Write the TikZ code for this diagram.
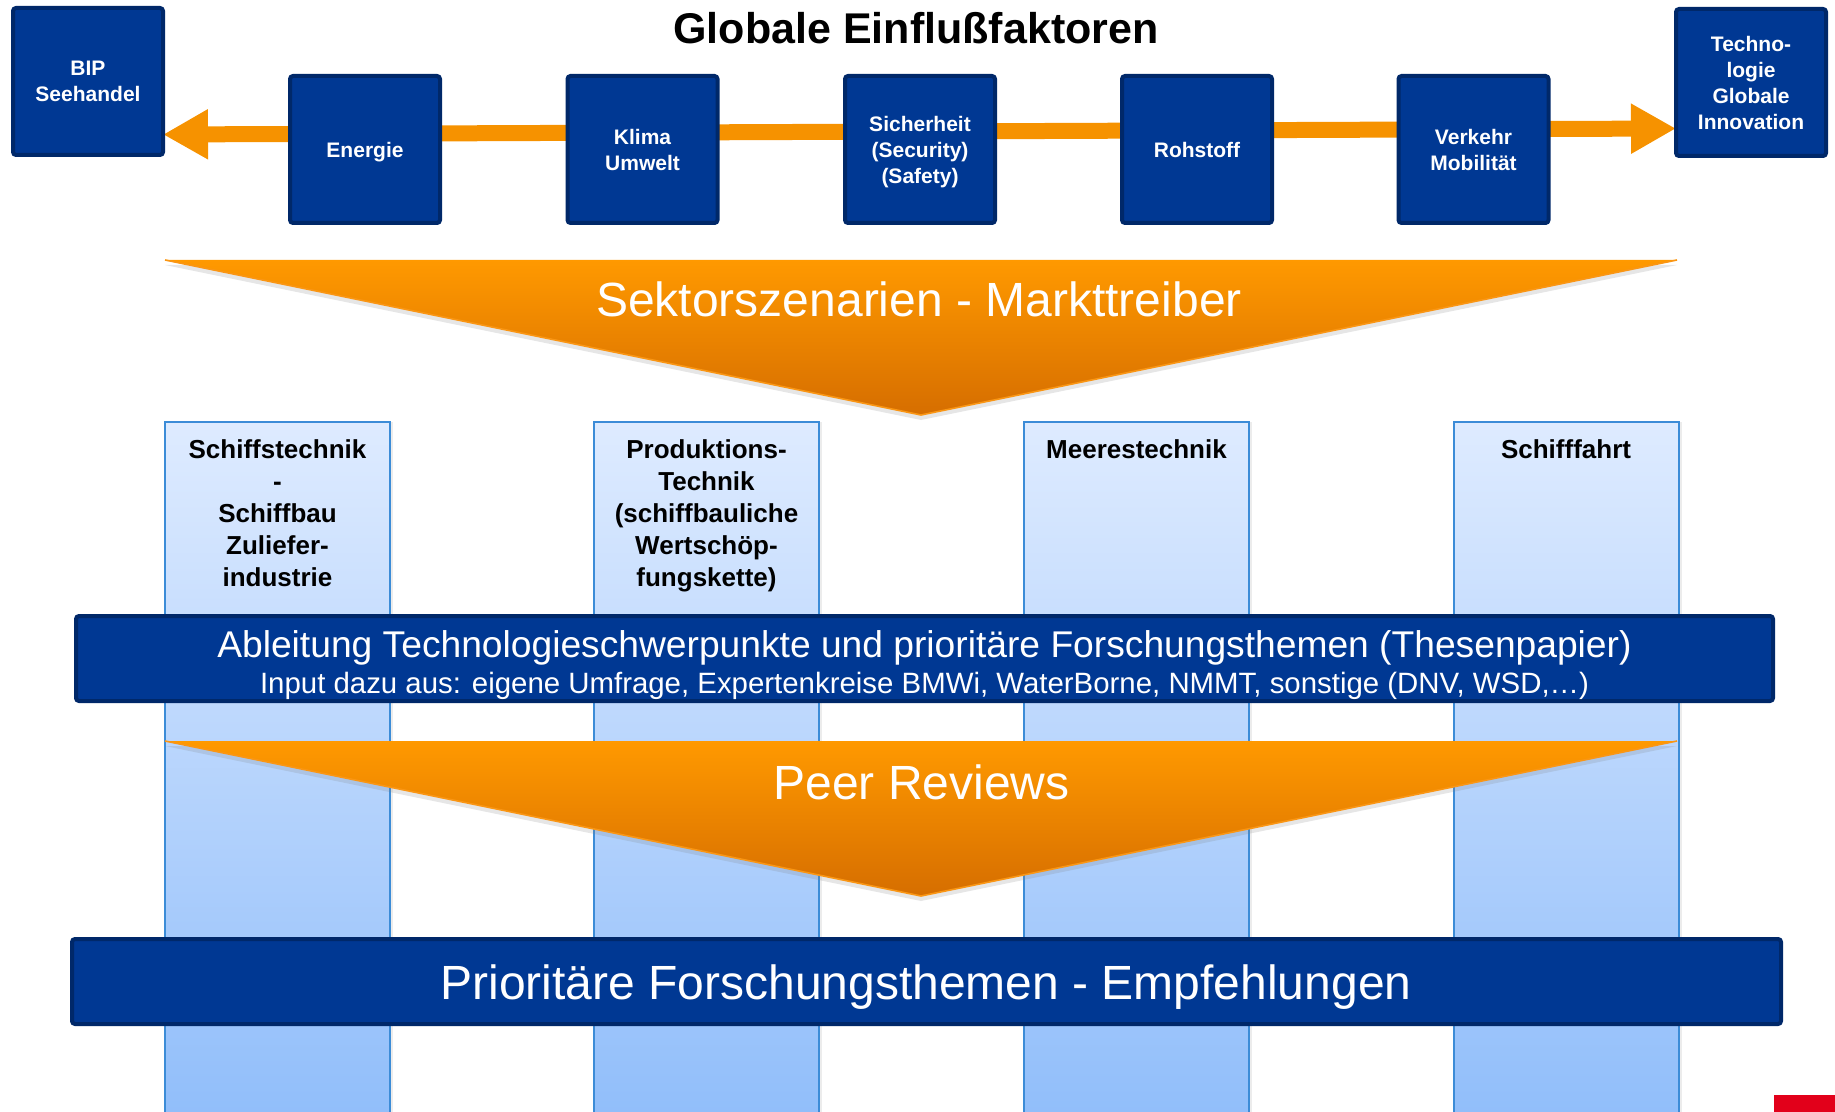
\documentclass[tikz,border=0pt]{standalone}
\usepackage{fontspec}
\setmainfont{Liberation Sans}
\usetikzlibrary{arrows.meta,calc,shadows,backgrounds}

\definecolor{navyF}{RGB}{0,56,147}
\definecolor{navyB}{RGB}{0,40,105}
\definecolor{flowC}{RGB}{246,146,0}
\definecolor{funTop}{RGB}{255,153,0}
\definecolor{funBot}{RGB}{214,110,0}
\definecolor{funEdge}{RGB}{250,150,20}
\definecolor{colTop}{RGB}{222,235,255}
\definecolor{colBot}{RGB}{145,190,250}
\definecolor{colB}{RGB}{60,140,215}
\definecolor{redC}{RGB}{226,0,26}

\begin{document}
\begin{tikzpicture}[x=0.5pt,y=-0.5pt,
  fbox/.style={draw=navyB, fill=navyF, line width=2pt, rounded corners=1.5pt,
    text=white, font=\bfseries\fontsize{10.5}{13}\selectfont, align=center,
    text depth=0pt,
    minimum width=75pt, minimum height=73.5pt, inner sep=0pt, outer sep=0pt},
  column/.style={draw=colB, line width=1pt, top color=colTop, bottom color=colBot,
    minimum width=112.5pt, minimum height=346pt, anchor=north, inner sep=0pt, outer sep=0pt,
    drop shadow={opacity=0.15, shadow xshift=1.5pt, shadow yshift=0pt}},
  collabel/.style={anchor=north, inner sep=0pt, align=center,
    font=\bfseries\fontsize{13}{16}\selectfont},
  band/.style={draw=navyB, fill=navyF, line width=2pt, rounded corners=1.5pt,
    minimum height=42.5pt, inner sep=0pt, outer sep=0pt},
  bandtext/.style={anchor=base, inner sep=0pt, text=white},
  funnel/.style={top color=funTop, bottom color=funBot,
    drop shadow={opacity=0.2, shadow xshift=0pt, shadow yshift=-2.5pt}},
  funneledge/.style={draw=funEdge, line width=0.8pt, line join=miter},
  bigtext/.style={anchor=base, inner sep=0pt, text=white, font=\fontsize{24}{28}\selectfont},
  flow/.style={draw=flowC, line width=8pt,
    {Triangle[length=22.5pt,width=23.5pt]}-{Triangle[length=22.5pt,width=23.5pt]}}
]
\useasboundingbox (0,0) rectangle (1835,1112);
\clip (0,0) rectangle (1835,1112);

% heading
\node[anchor=base, inner sep=0pt, font=\bfseries\fontsize{21.5}{26}\selectfont] (title) at (916,44) {Globale Einflußfaktoren};

% global factors
\node[fbox] (bip)    at (88,81.5)    {BIP\\Seehandel};
\node[fbox] (ener)   at (365,149.5)  {Energie};
\node[fbox] (klima)  at (642.5,149.5){Klima\\Umwelt};
\node[fbox] (sich)   at (920,149.5)  {Sicherheit\\(Security)\\(Safety)};
\node[fbox] (roh)    at (1197,149.5) {Rohstoff};
\node[fbox] (verk)   at (1473.5,149.5){Verkehr\\Mobilität};
\node[fbox] (tech)   at (1751,82.5)  {Techno-\\logie\\Globale\\Innovation};

% double arrow running behind the factor boxes
\begin{scope}[on background layer]
  \draw[flow] ($(bip.south east)+(0,-20.5)$) -- ($(tech.south west)+(0,-27.5)$);
\end{scope}

% first funnel
\shade[funnel] (165,260) -- (1677,260) -- (921,415) -- cycle;
\draw[funneledge] (165,260) -- (921,415) -- (1677,260);
\node[bigtext] (sektor) at (919,317) {Sektorszenarien - Markttreiber};

% sector columns
\node[column] (c1) at (277.5,422) {};
\node[column] (c2) at (706.5,422) {};
\node[column] (c3) at (1136.5,422) {};
\node[column] (c4) at (1566,422) {};
\node[collabel] (l1) at (277.5,439) {Schiffstechnik\\-\\Schiffbau\\Zuliefer-\\industrie};
\node[collabel] (l2) at (706.5,439) {Produktions-\\Technik\\(schiffbauliche\\Wertschöp-\\fungskette)};
\node[collabel] (l3) at (1136.5,439) {Meerestechnik};
\node[collabel] (l4) at (1566,439) {Schifffahrt};

% derivation band
\node[band, minimum width=848.5pt] (b1) at (924.5,658.5) {};
\node[bandtext, font=\fontsize{18.6}{22}\selectfont] (b1a) at (924.5,657)
  {Ableitung Technologieschwerpunkte und prioritäre Forschungsthemen (Thesenpapier)};
\node[bandtext, font=\fontsize{14.7}{17}\selectfont] (b1b) at (924.5,693)
  {Input dazu aus: eigene Umfrage, Expertenkreise BMWi, WaterBorne, NMMT, sonstige (DNV, WSD,…)};

% second funnel
\shade[funnel] (165,741) -- (1677,741) -- (921,896) -- cycle;
\draw[funneledge] (165,741) -- (921,896) -- (1677,741);
\node[bigtext] (peer) at (921.5,799) {Peer Reviews};

% result band
\node[band, minimum width=854.5pt] (b2) at (926.5,981.5) {};
\node[bigtext] (b2a) at (926,999) {Prioritäre Forschungsthemen - Empfehlungen};

% corner mark
\fill[redC] (1774,1095) rectangle (1835,1112);
\end{tikzpicture}
\end{document}
